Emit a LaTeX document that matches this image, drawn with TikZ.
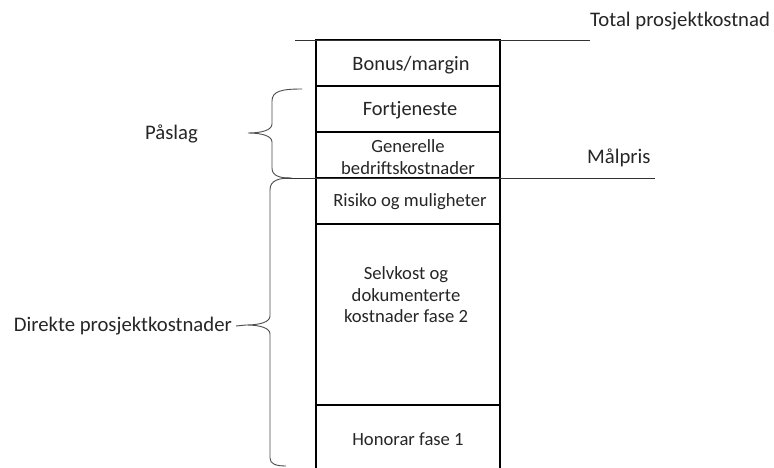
\documentclass[tikz,border=0pt]{standalone}
\usepackage{fontspec}
\setmainfont{Carlito}
\begin{document}
\begin{tikzpicture}[x=1bp,y=-1bp,
  cell/.style={draw=black, line width=1.4bp, minimum width=184bp, inner sep=0pt},
  celltext/.style={inner sep=0pt, align=center, font=\fontsize{18.7}{21.5}\selectfont, text=black!85},
  bigtext/.style={celltext, font=\fontsize{20.5}{24}\selectfont},
  lbl/.style={inner sep=0pt, font=\fontsize{20.8}{24}\selectfont, text=black!85},
  bracket/.style={draw=black!70, line width=0.9bp},
  level/.style={draw=black!80, line width=0.8bp}]
\clip (0,0) rectangle (774,468);
\fill[white] (0,0) rectangle (774,468);

% cost column, top to bottom
\node[cell, minimum height=46bp] (bonus) at (408,63) {};
\node[cell, minimum height=46bp] (fort) at (408,109) {};
\node[cell, minimum height=46bp] (gen) at (408,155) {};
\node[cell, minimum height=46bp] (risk) at (408,201) {};
\node[cell, minimum height=181bp] (self) at (408,314.5) {};
\node[cell, minimum height=70bp] (hon) at (408,440) {};

\node[bigtext] (bonusT) at (411,65) {Bonus/margin};
\node[bigtext] (fortT) at (410,110) {Fortjeneste};
\node[celltext] (genT) at (408,157) {Generelle\\bedriftskostnader};
\node[celltext] (riskT) at (410,202) {Risiko og muligheter};
\node[celltext] (selfT) at (406,295) {Selvkost og\\dokumenterte\\kostnader fase 2};
\node[celltext] (honT) at (408,439) {Honorar fase 1};

% level lines
\coordinate (totL) at (295,40);
\coordinate (totR) at (590,40);
\draw[level] (totL) -- (totR);
\coordinate (malL) at (283,178);
\coordinate (malR) at (655,178);
\draw[level] (malL) -- (malR);

\node[lbl, anchor=west] (total) at (590,21) {Total prosjektkostnad};
\node[lbl, anchor=west] (malpris) at (587,158) {Målpris};
\node[lbl, anchor=east] (paslag) at (198,134) {Påslag};
\node[lbl, anchor=east] (direkte) at (232,326) {Direkte prosjektkostnader};

% brace for the mark-up
\coordinate (ptip) at (248,133);
\draw[bracket] (302,89) .. controls (282,89) and (272,91) .. (272,101)
  -- (272,124) .. controls (272,130) and (262,133) .. (ptip)
  .. controls (262,133) and (272,136) .. (272,142)
  -- (272,168) .. controls (272,176) and (280,178) .. (290,178);

% brace for the direct costs
\coordinate (dtip) at (246,325);
\draw[bracket] (292,178) .. controls (279,178) and (270,180) .. (270,190)
  -- (270,316) .. controls (270,322) and (260,325) .. (dtip)
  .. controls (260,325) and (270,328) .. (270,334)
  -- (270,458) .. controls (270,464) and (276,466) .. (286,466);
\draw[bracket] (direkte.east) ++(4,0) -- (dtip);
\end{tikzpicture}
\end{document}
